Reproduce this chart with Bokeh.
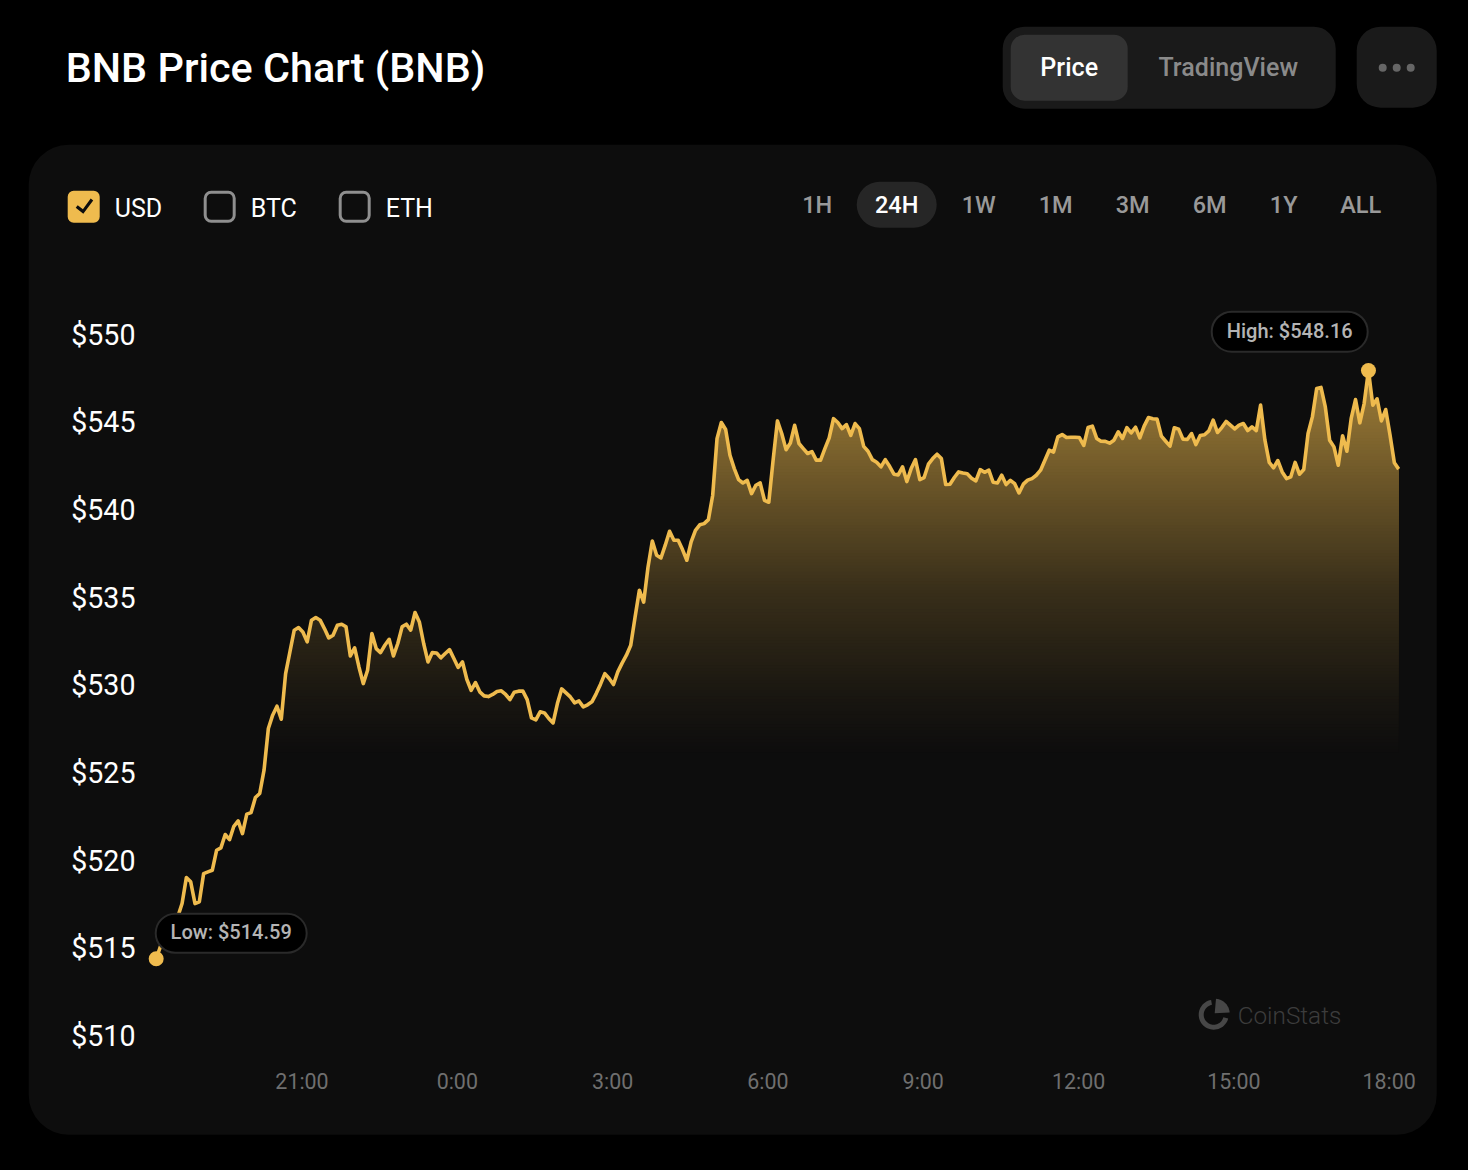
import numpy as np
from bokeh.embed import file_html
from bokeh.resources import INLINE
from bokeh.plotting import figure
from bokeh.models import (BoxAnnotation, Label, PolyAnnotation, LinearAxis, FixedTicker,
                          Range1d, PrintfTickFormatter)

# ---------- data ----------
title_text = "BNB Price Chart (BNB)"
currencies = ["USD", "BTC", "ETH"]
periods = ["1H", "24H", "1W", "1M", "3M", "6M", "1Y", "ALL"]
view_tabs = ["Price", "TradingView"]
price_ticks = [510, 515, 520, 525, 530, 535, 540, 545, 550]
time_tick_hours = [3, 6, 9, 12, 15, 18, 21, 24]
time_tick_labels = ["21:00", "0:00", "3:00", "6:00", "9:00", "12:00", "15:00", "18:00"]
first_sample_minute = 11   # minutes after 18:00 on the first day
sample_step_minutes = 5
prices = [
 514.59,515.30,516.03,516.41,516.60,516.98,517.74,519.22,518.98,517.74,517.84,519.45,519.55,519.64,520.78,520.92,
 521.68,521.39,522.15,522.46,521.73,522.84,522.93,523.79,524.02,525.35,527.73,528.49,529.00,528.26,530.86,532.10,
 533.34,533.49,533.24,532.67,533.91,534.06,533.91,533.43,532.90,533.05,533.62,533.68,533.53,531.87,532.33,531.24,
 530.29,531.05,533.15,532.29,532.06,532.48,532.82,531.87,532.58,533.53,533.68,533.34,534.35,533.81,532.58,531.53,
 532.06,532.04,531.76,532.01,532.23,531.72,531.21,531.53,530.54,529.91,530.35,529.82,529.59,529.55,529.67,529.84,
 529.88,529.67,529.38,529.80,529.86,529.86,529.38,528.33,528.22,528.68,528.62,528.30,528.05,529.15,529.99,529.76,
 529.53,529.19,529.30,528.96,529.08,529.25,529.72,530.26,530.86,530.58,530.24,530.96,531.46,531.91,532.48,534.08,
 535.62,534.94,536.93,538.43,537.61,537.46,538.19,538.98,538.47,538.47,537.94,537.33,538.38,539.04,539.35,539.42,
 539.65,541.04,544.27,545.19,544.79,543.32,542.56,541.93,541.74,541.89,541.13,541.61,541.74,540.75,540.64,543.04,
 545.28,544.56,543.64,544.02,545.03,543.99,543.70,543.42,543.53,543.04,543.04,543.70,544.31,545.41,545.19,544.84,
 545.07,544.46,545.13,544.84,543.83,543.55,543.07,542.92,542.66,543.07,542.69,542.24,542.20,542.66,541.82,542.56,
 543.07,541.93,542.05,542.81,543.13,543.38,543.13,541.65,541.67,542.05,542.37,542.31,542.26,542.01,541.86,542.50,
 542.35,542.47,541.78,541.74,542.18,541.65,541.89,541.70,541.17,541.67,541.90,541.99,542.18,542.47,543.04,543.61,
 543.50,544.37,544.50,544.33,544.35,544.35,544.33,543.88,544.90,544.98,544.28,544.12,544.11,544.01,544.18,544.66,
 544.28,544.90,544.60,544.92,544.31,544.98,545.47,545.40,545.38,544.41,544.12,543.84,544.89,544.81,544.24,544.22,
 544.56,543.93,544.45,544.49,544.71,545.32,544.62,544.90,545.25,545.04,544.83,545.04,545.13,544.73,544.94,544.73,
 546.18,544.18,542.91,542.60,543.02,542.37,541.99,542.09,542.91,542.24,542.51,544.56,545.51,547.13,547.19,546.08,
 544.18,543.80,542.75,544.43,543.55,545.42,546.50,545.17,546.27,548.16,546.18,546.54,545.28,545.93,544.47,542.89,
 542.53]
low_price, high_price = 514.59, 548.16
# area fill opacity against price: (price, opacity)
fill_stops_price = [526.2, 529.35, 535.62, 545.32, 548.2]
fill_stops_alpha = [0.0, 0.05, 0.195, 0.55, 0.65]

# ---------- colours ----------
GOLD = "#efbb4e"
PAGE = "#000000"
CARD = "#0d0d0d"
PANEL = "#1a1a1a"

hours = (first_sample_minute + sample_step_minutes * np.arange(len(prices))) / 60.0

# geometry in window pixels; the frame covers the whole canvas
W, H = 1460, 1160
NUDGE = 0.8
X_PX_3H, X_PX_PER_H = 301.5, 51.77
Y_PX_550, Y_PX_PER_USD = 337.7, 17.525
x_of = lambda px: 3 + (px - X_PX_3H) / X_PX_PER_H
y_of = lambda py: 550 - (py - Y_PX_550) / Y_PX_PER_USD

p = figure(width=W, height=H, output_backend="svg", toolbar_location=None,
           x_range=Range1d(x_of(0), x_of(W)), y_range=Range1d(y_of(H), y_of(0)),
           x_axis_location=None, y_axis_location=None,
           min_border_left=0, min_border_right=0, min_border_top=0, min_border_bottom=0)
p.outline_line_color = None
p.border_fill_color = PAGE
p.background_fill_color = PAGE
p.grid.visible = False


def box(l, t, r, b, fill, radius=0, line=None, lw=0, level="underlay"):
    p.add_layout(BoxAnnotation(left=l - NUDGE, right=r - NUDGE, top=t - NUDGE, bottom=b - NUDGE,
                               left_units="canvas", right_units="canvas",
                               top_units="canvas", bottom_units="canvas",
                               fill_color=fill, fill_alpha=1 if fill else 0,
                               line_color=line, line_width=lw, line_alpha=1 if line else 0,
                               border_radius=radius, level=level, editable=False))


def text(x, y, s, size, color, font="Roboto", align="left", level="overlay", style="normal"):
    p.add_layout(Label(x=x - NUDGE, y=y, x_units="canvas", y_units="canvas", text=s,
                       text_font=font, text_font_size=f"{size}px", text_color=color,
                       text_align=align, text_baseline="middle", level=level,
                       text_font_style=style))


def poly(pts, fill, level="overlay"):
    p.add_layout(PolyAnnotation(xs=[a - NUDGE for a, _ in pts], ys=[b - NUDGE for _, b in pts],
                                xs_units="canvas", ys_units="canvas",
                                fill_color=fill, fill_alpha=1, line_alpha=0, level=level,
                                editable=False))


# ---------- chrome ----------
box(29, 145, 1437, 1135, CARD, radius=40)
text(66, 67, title_text, 41.3, "#ffffff", font="Roboto Medium")

box(1003, 27, 1336, 109, PANEL, radius=22)
box(1011, 35, 1128, 101, "#333333", radius=14)
text(1069.5, 67, view_tabs[0], 25, "#ffffff", font="Roboto Medium", align="center")
text(1228.5, 67, view_tabs[1], 25, "#8a8a8a", font="Roboto Medium", align="center")
box(1357, 27, 1437, 108, PANEL, radius=24)
for cx in (1383, 1397, 1411):
    box(cx - 4, 64, cx + 4, 72, "#666666", radius=4)

box(68, 191, 100, 223, GOLD, radius=6)
poly([(76, 208), (78, 205.5), (83.2, 209.5), (91, 198.8), (93.5, 200.8), (83.6, 214)], CARD)
box(205.5, 192.5, 234.5, 221.5, None, radius=6, line="#8f8f8f", lw=3)
box(340.5, 192.5, 369.5, 221.5, None, radius=6, line="#8f8f8f", lw=3)
for tx, s in zip((115, 251, 386), currencies):
    text(tx, 208, s, 25, "#ffffff")

box(857, 182, 937, 228, "#262626", radius=23)
for cx, s in zip((817.5, 897, 979, 1056, 1133, 1210, 1284, 1361), periods):
    selected = s == "24H"
    text(cx, 204, s, 23.5, "#ffffff" if selected else "#999999",
         font="Roboto Medium", align="center")

# ---------- area gradient: opaque layers stacked from the bottom up to the line ----------
x_dense = np.arange(hours[0], hours[-1], 1.0 / X_PX_PER_H)
x_dense = np.append(x_dense, hours[-1])
y_dense = np.interp(x_dense, hours, prices)
levels = np.linspace(fill_stops_price[0], fill_stops_price[-1], 125)
targets = np.interp(levels, fill_stops_price, fill_stops_alpha)
gold_rgb = np.array([int(GOLD[i:i + 2], 16) for i in (1, 3, 5)], float)
card_rgb = np.array([int(CARD[i:i + 2], 16) for i in (1, 3, 5)], float)
for lv, tg in zip(levels, targets):
    if tg <= 0:
        continue
    c = card_rgb + (gold_rgb - card_rgb) * tg
    col = "#%02x%02x%02x" % tuple(int(round(v)) for v in c)
    p.varea(x=x_dense, y1=np.full_like(x_dense, lv), y2=np.maximum(y_dense, lv), fill_color=col)

# ---------- line + extremes ----------
p.line(hours, prices, line_color=GOLD, line_width=3.6, line_join="round")
i_low, i_high = int(np.argmin(prices)), int(np.argmax(prices))
p.scatter([hours[i_low], hours[i_high]], [low_price, high_price], size=15,
          fill_color=GOLD, line_color=None)

box(156, 914, 307, 953, "#000000", radius=20, line="#2a2a2a", lw=2, level="overlay")
text(231.5, 931, f"Low: ${low_price:.2f}", 20, "#b4b4b4", font="Roboto Medium", align="center")
box(1212, 312, 1368, 352, "#000000", radius=20, line="#2a2a2a", lw=2, level="overlay")
text(1290, 330, f"High: ${high_price:.2f}", 20, "#b4b4b4", font="Roboto Medium", align="center")

# ---------- watermark ----------
LOGO = "#474747"
cx0, cy0 = 1214.0, 1015.0


def arc_ring(a0, a1, r_out, r_in, n=40):
    t = np.radians(np.linspace(a0, a1, n))
    out = [(cx0 + r_out * np.cos(v), cy0 - r_out * np.sin(v)) for v in t]
    inn = [(cx0 + r_in * np.cos(v), cy0 - r_in * np.sin(v)) for v in t[::-1]]
    return out + inn


poly(arc_ring(100, 345, 15, 10), LOGO, level="underlay")
t = np.radians(np.linspace(85, 5, 20))
poly([(cx0 + 1.0, cy0 - 1.5)] + [(cx0 + 15 * np.cos(v) + 1, cy0 - 15 * np.sin(v) - 1) for v in t],
     LOGO, level="underlay")
text(1238, 1015, "CoinStats", 24.3, "#3c3c3c", font="Roboto Light", level="underlay")

# ---------- axes (fixed inside the canvas-wide frame) ----------
LABEL_SHIFT_USD = 3.4 / Y_PX_PER_USD
p.extra_y_ranges["tick_labels"] = Range1d(y_of(H) - LABEL_SHIFT_USD, y_of(0) - LABEL_SHIFT_USD)
yaxis = LinearAxis(y_range_name="tick_labels", ticker=FixedTicker(ticks=price_ticks),
                   formatter=PrintfTickFormatter(format="$%d"), fixed_location=x_of(139))
yaxis.axis_line_color = None
yaxis.major_tick_line_color = None
yaxis.minor_tick_line_color = None
yaxis.major_tick_in = 0
yaxis.major_tick_out = 0
yaxis.major_label_standoff = 4
yaxis.major_label_text_font = "Roboto"
yaxis.major_label_text_font_size = "28.6px"
yaxis.major_label_text_color = "#ffffff"
p.add_layout(yaxis, "left")

xaxis = LinearAxis(ticker=FixedTicker(ticks=time_tick_hours),
                   major_label_overrides=dict(zip(time_tick_hours, time_tick_labels)),
                   fixed_location=y_of(1064))
xaxis.axis_line_color = None
xaxis.major_tick_line_color = None
xaxis.minor_tick_line_color = None
xaxis.major_tick_in = 0
xaxis.major_tick_out = 0
xaxis.major_label_standoff = 4
xaxis.major_label_text_font = "Roboto"
xaxis.major_label_text_font_size = "21.4px"
xaxis.major_label_text_color = "#6f6f6f"
p.add_layout(xaxis, "below")

html = file_html(p, INLINE)
html = html.replace("<head>", "<head><style>html,body{background:#000000;}</style>", 1)
open("out.html", "w").write(html)
